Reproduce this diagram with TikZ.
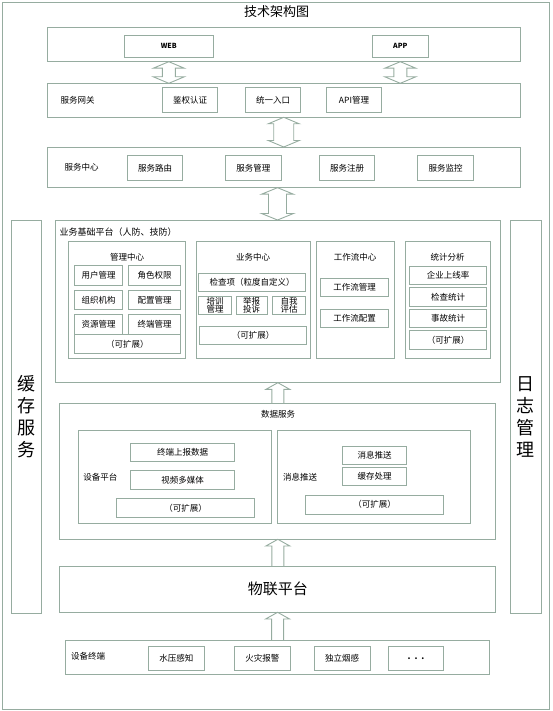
\documentclass[tikz,border=0pt]{standalone}
\usepackage{fontspec}
\setmainfont{Noto Sans CJK SC}
\usepackage{tikz}
\usetikzlibrary{positioning,calc}

\definecolor{linegreen}{RGB}{150,172,160}

% double block arrow: top point, bottom point, half shaft, half head
\newcommand{\dblarrow}[4]{%
  \draw[blockarrow] let \p1=(#1), \p2=(#2) in
    (\x1,\y1) -- ({\x1+#4},{\y1-6.5pt}) -- ({\x1+#3},{\y1-6.5pt})
    -- ({\x1+#3},{\y2+6.5pt}) -- ({\x1+#4},{\y2+6.5pt}) -- (\x1,\y2)
    -- ({\x1-#4},{\y2+6.5pt}) -- ({\x1-#3},{\y2+6.5pt})
    -- ({\x1-#3},{\y1-6.5pt}) -- ({\x1-#4},{\y1-6.5pt}) -- cycle;}
% single block arrow: tail, tip
\newcommand{\pusharrow}[2]{%
  \draw[blockarrow] let \p1=(#1), \p2=(#2) in
    ({\x1-6pt},\y1) -- ({\x1-6pt},{\y2-6.7pt}) -- ({\x1-12pt},{\y2-6.7pt})
    -- (\x1,\y2) -- ({\x1+12pt},{\y2-6.7pt}) -- ({\x1+6pt},{\y2-6.7pt})
    -- ({\x1+6pt},\y1);}

\begin{document}
\begin{tikzpicture}
[x=1pt, y=-1pt,
% STYLES
% The tier style is used for the big layers and group frames
tier/.style={rectangle, draw=linegreen, line width=0.9pt, inner sep=0pt, outer sep=0pt},
% The cell style is used for the small module boxes
cell/.style={rectangle, draw=linegreen, line width=0.9pt, inner sep=0pt, outer sep=0pt, align=center, font=\fontsize{8.5}{9}\selectfont},
caption/.style={inner sep=0pt, font=\fontsize{8.5}{9}\selectfont},
twoline/.style={cell, minimum height=18.3pt, font=\fontsize{8.5}{8.8}\selectfont},
sidebar/.style={tier, minimum width=30.7pt, minimum height=393.3pt},
bigtext/.style={inner sep=0pt, align=center, font=\fontsize{18}{22}\selectfont},
blockarrow/.style={draw=linegreen, line width=0.9pt, line join=miter}]

\useasboundingbox (0,0) rectangle (552,711);
\draw[linegreen, line width=0.9pt] (2.5,2.5) rectangle (549.5,709);

\node[inner sep=0pt, font=\fontsize{13}{13}\selectfont] (title) at (276.5,12) {技术架构图};

% Clients
\node[tier, minimum width=472.5pt, minimum height=34.2pt] (client) at (283.75,44.6) {};
\node[cell, minimum width=89pt, minimum height=22pt, font=\fontsize{7}{7}\selectfont\bfseries] (web) at (168.8,46.3) {WEB};
\node[cell, minimum width=56pt, minimum height=22pt, font=\fontsize{7}{7}\selectfont\bfseries] (app) at (400.3,46.3) {APP};

% Gateway
\node[tier, minimum width=472.5pt, minimum height=34pt] (gateway) at (283.75,100.3) {};
\node[caption] (gwlabel) at (77.7,100.3) {服务网关};
\node[cell, minimum width=55.4pt, minimum height=24.6pt] (auth) at (190,100) {鉴权认证};
\node[cell, minimum width=55.4pt, minimum height=24.6pt, right=27.6pt of auth] (entry) {统一入口};
\node[cell, minimum width=55.4pt, minimum height=24.6pt, right=25.6pt of entry] (apimgr) {API管理};

% Service center
\node[tier, minimum width=472.5pt, minimum height=40.7pt] (service) at (283.75,167.35) {};
\node[caption] (svclabel) at (81.7,167.3) {服务中心};
\node[cell, minimum width=55.4pt, minimum height=25pt] (route) at (155,167.8) {服务路由};
\node[cell, minimum width=55.4pt, minimum height=25pt, right=43pt of route] (svcmgr) {服务管理};
\node[cell, minimum width=55.4pt, minimum height=25pt, right=38.3pt of svcmgr] (svcreg) {服务注册};
\node[cell, minimum width=55.4pt, minimum height=25pt, right=43pt of svcreg] (svcmon) {服务监控};

% Side bars
\node[sidebar] (cache) at (26.35,416.65) {};
\node[bigtext] (cachetext) at (cache) {缓\\存\\服\\务};
\node[sidebar] (log) at (525.85,416.65) {};
\node[bigtext] (logtext) at (log) {日\\志\\管\\理};

% Business platform
\node[tier, minimum width=445pt, minimum height=162.7pt] (biz) at (277.5,301.35) {};
\node[caption, anchor=west, font=\fontsize{9}{9}\selectfont] (bizlabel) at (59.5,232.3) {业务基础平台（人防、技防）};
\node[tier, minimum width=117.4pt, minimum height=116.6pt] (mgmt) at (127,300) {};
\node[tier, minimum width=114pt, minimum height=116.6pt, right=10.3pt of mgmt] (bizc) {};
\node[tier, minimum width=78pt, minimum height=116.6pt, right=6pt of bizc] (flow) {};
\node[tier, minimum width=85pt, minimum height=116.6pt, right=11pt of flow] (stats) {};
\node[caption, below=11.7pt of mgmt.north] (mgmtlabel) {管理中心};
\node[caption, below=11.7pt of bizc.north] (bizclabel) {业务中心};
\node[caption, below=11.7pt of flow.north] (flowlabel) {工作流中心};
\node[caption, below=11.7pt of stats.north] (statslabel) {统计分析};

% MANAGEMENT CENTER
\node[cell, minimum width=47.5pt, minimum height=19.5pt] (user) at (98.5,275.5) {用户管理};
\node[cell, minimum width=52.5pt, minimum height=19.5pt, right=6pt of user] (role) {角色权限};
\node[cell, minimum width=47.5pt, minimum height=19.5pt, below=5pt of user] (org) {组织机构};
\node[cell, minimum width=52.5pt, minimum height=19.5pt, below=5pt of role] (conf) {配置管理};
\node[cell, minimum width=47.5pt, minimum height=19.5pt, below=5pt of org] (res) {资源管理};
\node[cell, minimum width=52.5pt, minimum height=19.5pt, below=5pt of conf] (termmgr) {终端管理};
\node[cell, minimum width=106.5pt, minimum height=19pt] (mgmtmore) at (127.3,344.3) {（可扩展）};
% BUSINESS CENTER
\node[cell, minimum width=107.4pt, minimum height=18.4pt] (check) at (252,282.5) {检查项（粒度自定义）};
\node[twoline, minimum width=33.4pt] (train) at (215,305.2) {培训\\管理};
\node[twoline, minimum width=31.3pt, right=4.3pt of train] (complain) {举报\\投诉};
\node[twoline, minimum width=33.4pt, right=5pt of complain] (selfeval) {自我\\评估};
\node[cell, minimum width=107.4pt, minimum height=18.3pt] (bizmore) at (253,335.2) {（可扩展）};
% WORKFLOW CENTER
\node[cell, minimum width=67.6pt, minimum height=18.4pt] (flowmgr) at (354.5,287.5) {工作流管理};
\node[cell, minimum width=67.6pt, minimum height=18.4pt, below=12.6pt of flowmgr] (flowconf) {工作流配置};
% STATISTICS
\node[cell, minimum width=77.4pt, minimum height=18.5pt] (online) at (448,275.2) {企业上线率};
\node[cell, minimum width=77.4pt, minimum height=18.5pt, below=3.1pt of online] (inspect) {检查统计};
\node[cell, minimum width=77.4pt, minimum height=18.5pt, below=3.1pt of inspect] (accident) {事故统计};
\node[cell, minimum width=77.4pt, minimum height=18.5pt, below=3.1pt of accident] (statsmore) {（可扩展）};

% Data service
\node[tier, minimum width=435.9pt, minimum height=136pt] (data) at (277.85,471.3) {};
\node[caption] (datalabel) at (278,414) {数据服务};
\node[tier, minimum width=193.6pt, minimum height=92.6pt] (devp) at (175,477) {};
\node[tier, minimum width=193pt, minimum height=92.6pt, right=6pt of devp] (msgp) {};
\node[caption] (devplabel) at (100.4,477.3) {设备平台};
\node[caption] (msgplabel) at (300,477) {消息推送};
\node[cell, minimum width=104.6pt, minimum height=18.4pt] (upload) at (182.6,452.5) {终端上报数据};
\node[cell, minimum width=104.6pt, minimum height=18.4pt, below=9pt of upload] (video) {视频多媒体};
\node[cell, minimum width=138.1pt, minimum height=19pt] (devmore) at (185.5,507.8) {（可扩展）};
\node[cell, minimum width=64.4pt, minimum height=18.3pt] (push) at (374.5,455.2) {消息推送};
\node[cell, minimum width=64.4pt, minimum height=18.3pt, below=3pt of push] (cachework) {缓存处理};
\node[cell, minimum width=138.4pt, minimum height=18.7pt] (msgmore) at (374.5,504.7) {（可扩展）};

% IoT platform
\node[tier, minimum width=435.9pt, minimum height=46.3pt, font=\fontsize{15}{15}\selectfont] (iot) at (277.85,589.15) {物联平台};

% Devices
\node[tier, minimum width=423.6pt, minimum height=34pt] (devices) at (277.6,657) {};
\node[caption] (devlabel) at (88,656.7) {设备终端};
\node[cell, minimum width=55.6pt, minimum height=24.7pt] (water) at (176.4,658.3) {水压感知};
\node[cell, minimum width=55.6pt, minimum height=24.7pt, right=30.3pt of water] (fire) {火灾报警};
\node[cell, minimum width=55.6pt, minimum height=24.7pt, right=24.3pt of fire] (smoke) {独立烟感};
\node[cell, minimum width=55.6pt, minimum height=24.7pt, right=18.3pt of smoke, font=\fontsize{8.5}{9}\selectfont\bfseries] (others) {.\ \ .\ \ .};

% Draw the links between layers
\dblarrow{web.south |- client.south}{web.south |- gateway.north}{6.5pt}{15.5pt}
\dblarrow{app.south |- client.south}{app.south |- gateway.north}{6.5pt}{15.5pt}
\dblarrow{gateway.south}{service.north}{10pt}{15.5pt}
\dblarrow{biz.north |- service.south}{biz.north}{9pt}{16pt}
\pusharrow{data.north}{biz.south}
\pusharrow{iot.north}{data.south}
\pusharrow{devices.north}{iot.south}

\end{tikzpicture}
\end{document}
